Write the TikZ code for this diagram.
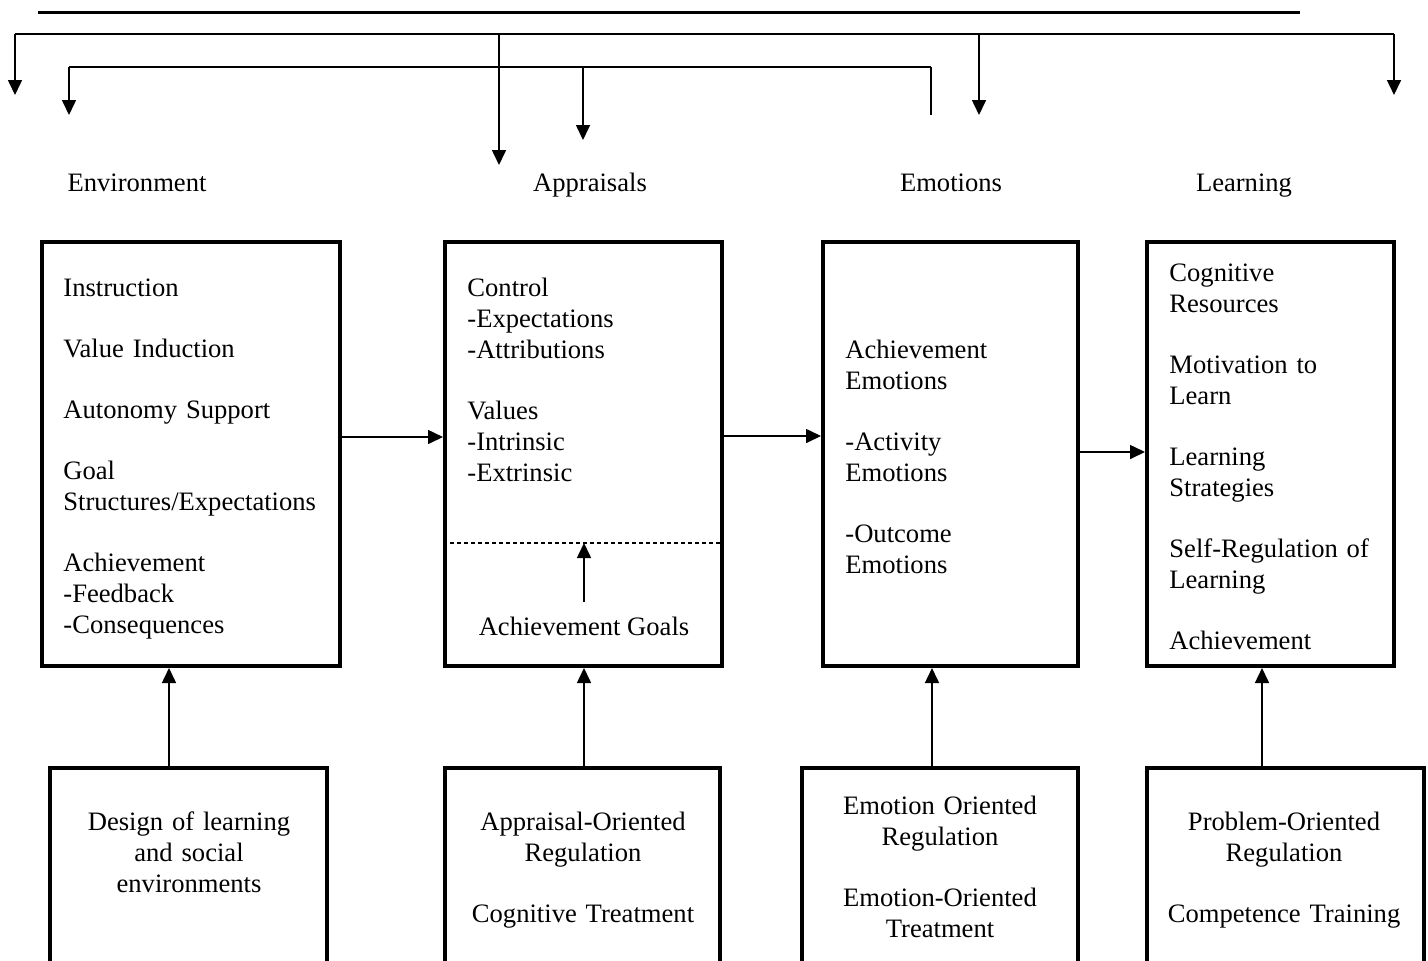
\documentclass[tikz,border=0pt]{standalone}
\usepackage{fontspec}
\setmainfont{Liberation Serif}
\usetikzlibrary{arrows.meta}
\begin{document}
\begin{tikzpicture}[x=0.5pt,y=-0.5pt,
  font=\fontsize{13.3pt}{15.5pt}\selectfont,
  conn/.style={line width=0.8pt},
  arr/.style={conn,-{Triangle[length=7.5pt,width=7pt]}},
  box/.style={draw,line width=2pt,inner sep=0pt},
  lefttext/.style={inner sep=0pt,anchor=base west,text width=150pt,align=left},
  midtext/.style={inner sep=0pt,anchor=base,text width=140pt,align=center},
  head/.style={inner sep=0pt,anchor=base}]
\useasboundingbox (0,0) rectangle (1428,960);
\clip (0,0) rectangle (1428,960);

% rule at the top
\coordinate (ruleL) at (38,12);
\coordinate (ruleR) at (1300,12);
\draw[line width=1.5pt] (ruleL) -- (ruleR);

% upper bracket of downward arrows
\coordinate (u1) at (15,34);
\coordinate (u2) at (499,34);
\coordinate (u3) at (979,34);
\coordinate (u4) at (1394,34);
\coordinate (u1e) at (15,95);
\coordinate (u2e) at (499,165);
\coordinate (u3e) at (979,115);
\coordinate (u4e) at (1394,95);
\draw[conn] (u1) -- (u4);
\draw[arr] (u1) -- (u1e);
\draw[arr] (u2) -- (u2e);
\draw[arr] (u3) -- (u3e);
\draw[arr] (u4) -- (u4e);

% lower bracket
\coordinate (w1) at (69,67);
\coordinate (w2) at (583,67);
\coordinate (w3) at (931,67);
\coordinate (w1e) at (69,115);
\coordinate (w2e) at (583,140);
\coordinate (w3e) at (931,115);
\draw[conn] (w1) -- (w3);
\draw[arr] (w1) -- (w1e);
\draw[arr] (w2) -- (w2e);
\draw[conn] (w3) -- (w3e);

% column headings
\node[head] (hEnv) at (137,191) {Environment};
\node[head] (hApp) at (590,191) {Appraisals};
\node[head] (hEmo) at (951,191) {Emotions};
\node[head] (hLea) at (1244,191) {Learning};

% main boxes
\node[box,minimum width=149pt,minimum height=212pt] (b1) at (191,454) {};
\node[box,minimum width=138.5pt,minimum height=212pt] (b2) at (583.5,454) {};
\node[box,minimum width=127.5pt,minimum height=212pt] (b3) at (950.5,454) {};
\node[box,minimum width=123.5pt,minimum height=212pt] (b4) at (1270.5,454) {};

% regulation boxes
\node[box,minimum width=138.5pt,minimum height=116pt] (b5) at (188.5,884) {};
\node[box,minimum width=137.5pt,minimum height=116pt] (b6) at (582.5,884) {};
\node[box,minimum width=138pt,minimum height=116pt] (b7) at (940,884) {};
\node[box,minimum width=138.5pt,minimum height=116pt] (b8) at (1285.5,884) {};

% box contents
\node[lefttext] (t1) at (63,296) {Instruction\\[15pt]
  Value Induction\\[15pt]
  Autonomy Support\\[15pt]
  Goal\\ Structures/Expectations\\[15pt]
  Achievement\\ -Feedback\\ -Consequences};
\node[lefttext] (t2) at (467,296) {Control\\ -Expectations\\ -Attributions\\[15pt]
  Values\\ -Intrinsic\\ -Extrinsic};
\node[lefttext] (t3) at (845,358) {Achievement\\ Emotions\\[15pt]
  -Activity\\ Emotions\\[15pt]
  -Outcome\\ Emotions};
\node[lefttext] (t4) at (1169,281) {Cognitive\\ Resources\\[15pt]
  Motivation to\\ Learn\\[15pt]
  Learning\\ Strategies\\[15pt]
  Self-Regulation of\\ Learning\\[15pt]
  Achievement};

% achievement goals inside the appraisal box
\coordinate (dash) at (584,543);
\draw[line width=0.6pt,dash pattern=on 2pt off 1.5pt] (b2.west |- dash) -- (b2.east |- dash);
\node[head] (ag) at (584,635) {Achievement Goals};
\draw[arr] ([yshift=7pt]ag.north) -- (ag.north |- dash);

\node[midtext] (t5) at (189,830) {Design of learning\\ and social\\ environments};
\node[midtext] (t6) at (583,830) {Appraisal-Oriented\\ Regulation\\[15pt] Cognitive Treatment};
\node[midtext] (t7) at (940,814) {Emotion Oriented\\ Regulation\\[15pt] Emotion-Oriented\\ Treatment};
\node[midtext] (t8) at (1284,830) {Problem-Oriented\\ Regulation\\[15pt] Competence Training};

% flow between the main boxes
\draw[arr] ([yshift=8.5pt]b1.east) -- ([yshift=8.5pt]b2.west);
\draw[arr] ([yshift=9pt]b2.east) -- ([yshift=9pt]b3.west);
\draw[arr] ([yshift=1pt]b3.east) -- ([yshift=1pt]b4.west);

% regulation arrows
\draw[arr] ([xshift=-9.75pt]b5.north) -- ([xshift=-9.75pt]b5.north |- b1.south);
\draw[arr] ([xshift=0.75pt]b6.north) -- ([xshift=0.75pt]b6.north |- b2.south);
\draw[arr] ([xshift=-4pt]b7.north) -- ([xshift=-4pt]b7.north |- b3.south);
\draw[arr] ([xshift=-11.75pt]b8.north) -- ([xshift=-11.75pt]b8.north |- b4.south);
\end{tikzpicture}
\end{document}
